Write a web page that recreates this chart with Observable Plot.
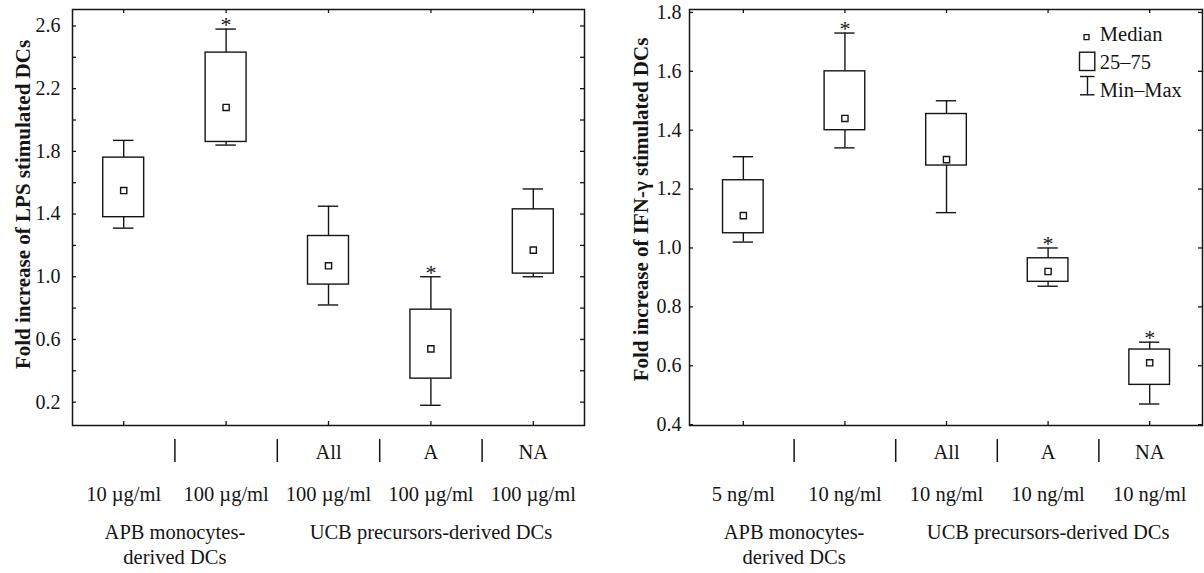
<!DOCTYPE html>
<html><head><meta charset="utf-8">
<script src="https://cdn.jsdelivr.net/npm/d3@7"></script>
<script src="https://cdn.jsdelivr.net/npm/@observablehq/plot@0.6"></script>
<style>
body{margin:0;background:#fff;}
#wrap{display:flex;width:1204px;height:573px;overflow:hidden;}
#wrap svg{flex:none;}
</style></head><body><div id="wrap"></div>
<script>
// ---- data ----
const positions = [1, 2, 3, 4, 5];
const subgroupLabels = ["", "", "All", "A", "NA"];
const lpsDoses = ["10 µg/ml", "100 µg/ml", "100 µg/ml", "100 µg/ml", "100 µg/ml"];
const ifnDoses = ["5 ng/ml", "10 ng/ml", "10 ng/ml", "10 ng/ml", "10 ng/ml"];
const groupLabels = ["APB monocytes-\nderived DCs", "UCB precursors-derived DCs"];
const groupPositions = [1.5, 4];
const separatorPositions = [1.5, 2.5, 3.5, 4.5];

const lpsMin    = [1.31, 1.84, 0.82, 0.18, 1.00];
const lpsQ1     = [1.38, 1.86, 0.95, 0.35, 1.02];
const lpsMedian = [1.55, 2.08, 1.07, 0.54, 1.17];
const lpsQ3     = [1.76, 2.43, 1.26, 0.79, 1.43];
const lpsMax    = [1.87, 2.58, 1.45, 1.00, 1.56];
const lpsSignificant = [false, true, false, true, false];

const ifnMin    = [1.02, 1.34, 1.12, 0.87, 0.47];
const ifnQ1     = [1.05, 1.40, 1.28, 0.885, 0.535];
const ifnMedian = [1.11, 1.44, 1.30, 0.92, 0.61];
const ifnQ3     = [1.23, 1.60, 1.455, 0.965, 0.655];
const ifnMax    = [1.31, 1.73, 1.50, 1.00, 0.68];
const ifnSignificant = [false, true, false, true, true];

const lpsTicks = [0.2, 0.4, 0.6, 0.8, 1.0, 1.2, 1.4, 1.6, 1.8, 2.0, 2.2, 2.4, 2.6];
const lpsTickLabels = [0.2, 0.6, 1.0, 1.4, 1.8, 2.2, 2.6];
const ifnTicks = [0.4, 0.6, 0.8, 1.0, 1.2, 1.4, 1.6, 1.8];
const ifnTickLabels = [0.4, 0.6, 0.8, 1.0, 1.2, 1.4, 1.6, 1.8];

const legendLabels = ["Median", "25–75", "Min–Max"];

// ---- chart builder ----
const INK = "#151515";
const FONT = "'Liberation Serif', 'Times New Roman', serif";
const W = 602, H = 573, MT = 9, MB = 148;

function boxChart(cfg) {
  const {ml, mr, xDomain, yDomain, mins, q1s, meds, q3s, maxs, sig, ticks, tickLabels, doses, title, titleDx, titleDy, tickPad, legend} = cfg;
  const fw = W - ml - mr, fh = H - MT - MB;
  const v = (arr) => (i) => arr[i - 1];
  const marks = [
    // whiskers
    Plot.ruleX(positions, {x: d => d, y1: v(q3s), y2: v(maxs), stroke: INK, strokeWidth: 1.4}),
    Plot.ruleX(positions, {x: d => d, y1: v(mins), y2: v(q1s), stroke: INK, strokeWidth: 1.4}),
    Plot.ruleY(positions, {y: v(maxs), x1: d => d - 0.1, x2: d => d + 0.1, stroke: INK, strokeWidth: 1.4}),
    Plot.ruleY(positions, {y: v(mins), x1: d => d - 0.1, x2: d => d + 0.1, stroke: INK, strokeWidth: 1.4}),
    // boxes
    Plot.rect(positions, {x1: d => d - 0.2, x2: d => d + 0.2, y1: v(q1s), y2: v(q3s), fill: "white", stroke: INK, strokeWidth: 1.4}),
    // medians
    Plot.dot(positions, {x: d => d, y: v(meds), symbol: "square", r: 3.5, fill: "white", stroke: INK, strokeWidth: 1.4}),
    // significance asterisks
    Plot.text(positions.filter(i => sig[i - 1]), {x: d => d, y: v(maxs), text: () => "*", lineAnchor: "bottom", dy: 3, fontSize: 22, fill: INK}),
    // frame and inward ticks
    Plot.frame({stroke: INK, strokeWidth: 1.5}),
    Plot.tickY(ticks, {y: d => d, insetRight: fw - 4, stroke: INK, strokeWidth: 1.3}),
    Plot.tickY(ticks, {y: d => d, insetLeft: fw - 4, stroke: INK, strokeWidth: 1.3}),
    Plot.tickX(positions, {x: d => d, insetBottom: fh - 4, stroke: INK, strokeWidth: 1.3}),
    Plot.tickX(positions, {x: d => d, insetTop: fh - 4, stroke: INK, strokeWidth: 1.3}),
    // y tick labels
    Plot.axisY(tickLabels, {anchor: "left", tickSize: 0, tickPadding: tickPad, tickFormat: d3.format(".1f"), label: null, fontSize: 20, fill: INK}),
    // y title
    Plot.text([title], {frameAnchor: "left", textAnchor: "middle", lineAnchor: "middle", rotate: -90, dx: titleDx, dy: titleDy, fontWeight: "bold", fontSize: 21, fill: INK}),
    // bottom category rows
    Plot.ruleX(separatorPositions, {x: d => d, insetTop: 430, insetBottom: -37, stroke: INK, strokeWidth: 1.5}),
    Plot.text(positions, {x: d => d, text: v(subgroupLabels), frameAnchor: "bottom", lineAnchor: "bottom", dy: 33, fontSize: 20.5, fill: INK}),
    Plot.text(positions, {x: d => d, text: v(doses), frameAnchor: "bottom", lineAnchor: "bottom", dy: 75, fontSize: 20.5, fill: INK}),
    Plot.text(groupPositions, {x: d => d, text: (d, i) => groupLabels[i], frameAnchor: "bottom", lineAnchor: "top", lineHeight: 1.22, dy: 113 - 0.71 * 1.22 * 20.5, fontSize: 20.5, fill: INK})
  ];
  if (legend) {
    const fx = (px) => px - ml, fy = (py) => py - MT;
    const boxAt = (x0, y0, x1, y1, o) => Plot.frame({insetLeft: fx(x0), insetRight: ml + fw - x1, insetTop: fy(y0), insetBottom: MT + fh - y1, ...o});
    marks.push(
      Plot.dot([0], {frameAnchor: "top-left", dx: fx(484), dy: fy(36.7), symbol: "square", r: 2.8, fill: "white", stroke: INK, strokeWidth: 1.3}),
      boxAt(477, 51.7, 492.3, 70, {stroke: INK, strokeWidth: 1.4}),
      boxAt(484.3, 76, 485.7, 94.3, {fill: INK, stroke: "none"}),
      boxAt(477.5, 75.3, 492, 76.7, {fill: INK, stroke: "none"}),
      boxAt(477.5, 93.6, 492, 95, {fill: INK, stroke: "none"}),
      Plot.text([legendLabels.join("\n")], {frameAnchor: "top-left", textAnchor: "start", lineAnchor: "bottom", lineHeight: 1.37, dx: fx(497.3), dy: fy(96.7), fontSize: 20.5, fill: INK})
    );
  }
  return Plot.plot({
    width: W, height: H,
    marginTop: MT, marginBottom: MB, marginLeft: ml, marginRight: mr,
    x: {type: "linear", domain: xDomain, axis: null},
    y: {type: "linear", domain: yDomain, axis: null},
    style: {fontFamily: FONT, fontSize: "20px", color: INK, background: "white"},
    marks
  });
}

const left = boxChart({
  ml: 72, mr: 18, xDomain: [0.5, 5.5], yDomain: [0.051, 2.705],
  mins: lpsMin, q1s: lpsQ1, meds: lpsMedian, q3s: lpsQ3, maxs: lpsMax, sig: lpsSignificant,
  ticks: lpsTicks, tickLabels: lpsTickLabels, doses: lpsDoses,
  title: "Fold increase of LPS stimulated DCs", titleDx: -49, titleDy: -13, tickPad: 12, legend: false
});
const right = boxChart({
  ml: 87, mr: 2, xDomain: [0.47, 5.52], yDomain: [0.397, 1.81],
  mins: ifnMin, q1s: ifnQ1, meds: ifnMedian, q3s: ifnQ3, maxs: ifnMax, sig: ifnSignificant,
  ticks: ifnTicks, tickLabels: ifnTickLabels, doses: ifnDoses,
  title: "Fold increase of IFN-γ stimulated DCs", titleDx: -48, titleDy: -8, tickPad: 8, legend: true
});
document.getElementById("wrap").append(left, right);
</script></body></html>
